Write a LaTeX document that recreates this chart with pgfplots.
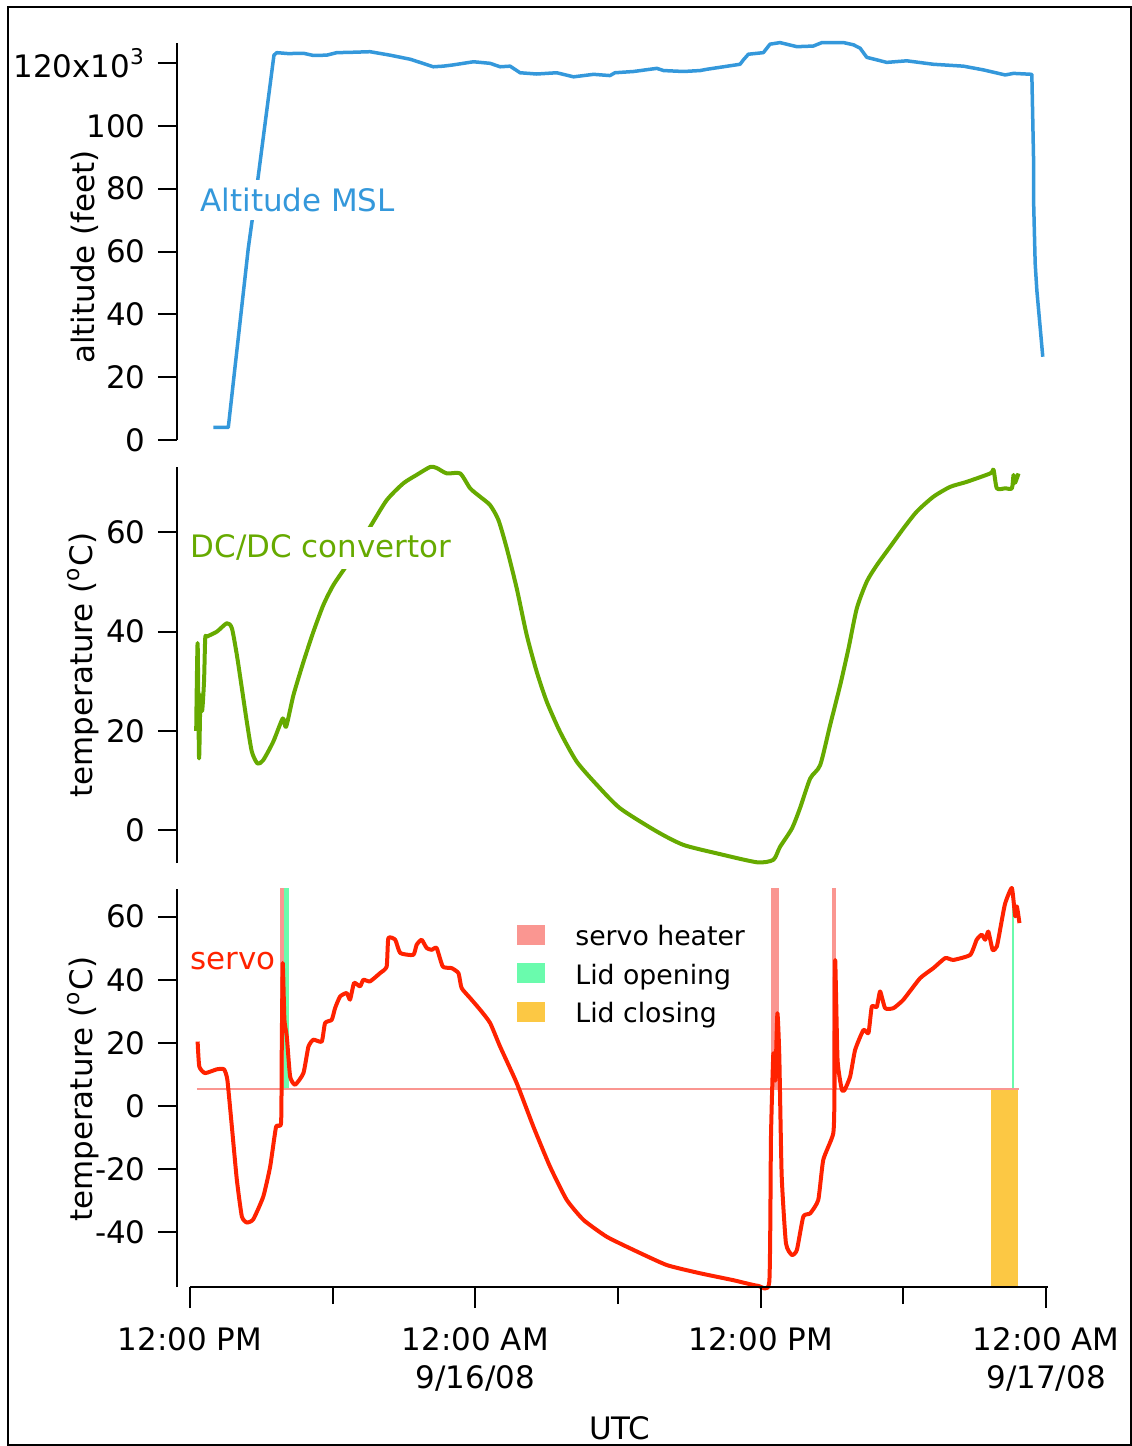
\documentclass[border=0pt]{standalone}
\usepackage{pgfplots}
\pgfplotsset{compat=1.18}
\usepackage{fontspec}
\setmainfont{DejaVu Sans}

\definecolor{altblue}{RGB}{52,152,219}
\definecolor{dcgreen}{RGB}{102,170,0}
\definecolor{servored}{RGB}{255,34,0}
\definecolor{heatpink}{RGB}{250,150,145}
\definecolor{lidgreen}{RGB}{106,251,173}
\definecolor{lidorange}{RGB}{252,200,68}

\newcommand\tickfont{\fontsize{8.8pt}{10.8pt}\selectfont}
\newcommand\labfont{\fontsize{8.8pt}{10.5pt}\selectfont}
\newcommand\legfont{\fontsize{7.6pt}{9pt}\selectfont}

% hours after 12:00 PM 9/15/08 on x
\pgfplotsset{
    panel/.style={
        scale only axis,
        width=87.1mm,
        xmin=-0.547, xmax=36.08,
        axis x line=none,
        axis y line=left,
        y axis line style={-, line width=0.2mm},
        every tick/.style={black, line width=0.2mm},
        tick align=outside,
        major tick length=1.9mm,
        tick label style={font=\tickfont},
        ylabel style={anchor=center, font=\labfont},
        clip=false,
    },
}

\begin{document}
\begin{tikzpicture}
\path[use as bounding box] (0,0) rectangle (113.2mm,-144.6mm);
\draw[line width=0.2mm] (0.8mm,-0.7mm) rectangle (113.1mm,-144.5mm);

% altitude
\begin{axis}[panel,
    at={(17.7mm,-44mm)}, anchor=south west,
    height=39.7mm,
    ymin=0, ymax=126.37,
    ytick={0,20,40,60,80,100,120},
    yticklabels={0,20,40,60,80,100,120x10\textsuperscript{3}},
    ylabel={altitude (feet)},
    ylabel style={at={(axis description cs:-0.1056,0.461)}},
]
\addplot[altblue, line width=0.35mm, line join=round] coordinates {
    (0.98,4.0) (1.61,4.0) (2.45,61) (2.87,84) (3.53,122.5) (3.65,123.3) (4.13,123.0)
    (4.77,123.1) (5.19,122.4) (5.75,122.5) (6.17,123.3) (6.75,123.4) (7.57,123.6)
    (8.41,122.5) (9.26,121.2) (9.75,120.0) (10.23,118.8) (10.65,119.0) (11.07,119.4)
    (11.92,120.4) (12.62,119.9) (13.04,118.8) (13.46,119.0) (13.88,116.9) (14.58,116.5)
    (15.42,116.9) (16.13,115.6) (16.97,116.4) (17.66,116.0) (17.87,116.9) (18.65,117.3)
    (19.63,118.3) (19.91,117.6) (20.75,117.3) (21.45,117.6) (21.73,118.0) (22.43,118.8)
    (23.13,119.6) (23.27,121.0) (23.48,122.8) (24.11,123.3) (24.39,126.0) (24.81,126.5)
    (25.52,125.2) (26.21,125.4) (26.57,126.5) (27.48,126.5) (27.90,125.8) (28.18,124.7)
    (28.46,121.8) (29.30,120.2) (30.14,120.7) (31.26,119.6) (32.52,119.0) (33.37,117.8)
    (34.28,116.2) (34.63,116.7) (35.40,116.4) (35.47,90.2) (35.48,74.3) (35.54,56.2)
    (35.61,47.7) (35.86,26.5)
};
\node[anchor=west, fill=white, inner sep=0.8mm, text=altblue, font=\labfont]
    at (axis cs:0.08,76.4) {Altitude MSL};
\end{axis}

% DC/DC convertor
\begin{axis}[panel,
    at={(17.7mm,-86.3mm)}, anchor=south west,
    height=39.6mm,
    ymin=-6.65, ymax=73.2,
    ytick={0,20,40,60},
    yticklabels={0,20,40,60},
    ylabel={temperature (\textsuperscript{o}C)},
    ylabel style={at={(axis description cs:-0.108,0.5)}},
]
\addplot[dcgreen, line width=0.4mm, line join=round, smooth, tension=0.4] coordinates {
    (0.26,20) (0.32,37.7) (0.38,14.5) (0.44,27) (0.51,24) (0.59,30) (0.64,38.7)
    (0.71,39.0) (1.13,40.0) (1.55,41.7) (1.76,40.7) (1.97,35.3) (2.18,28.6) (2.39,21.8)
    (2.60,15.8) (2.84,13.4) (3.08,14.1) (3.50,17.8) (3.90,22.5) (4.04,20.8) (4.35,27.2)
    (4.77,33.9) (5.19,40.0) (5.61,45.4) (6.03,49.4) (6.59,53.4) (7.05,57.3) (7.57,61.1)
    (8.27,66.5) (8.97,69.9) (9.53,71.6) (10.10,73.2) (10.37,73.0) (10.80,71.9)
    (11.36,71.9) (11.78,68.9) (12.20,67.2) (12.62,65.5) (12.97,62.5) (13.32,56.8)
    (13.74,48.7) (14.16,39.3) (14.58,31.9) (15.00,25.9) (15.56,19.8) (16.26,13.8)
    (17.11,9.1) (18.08,4.4) (19.63,-0.3) (20.75,-3.0) (22.15,-4.7) (23.84,-6.5)
    (24.53,-6.0) (24.81,-3.4) (25.31,0.3) (25.65,4.4) (26.08,10.4) (26.50,13.1)
    (26.92,21.2) (27.34,29.2) (27.69,36.6) (28.04,44.7) (28.46,50.1) (28.88,53.4)
    (29.44,57.1) (30.00,60.8) (30.56,64.2) (31.26,67.2) (31.97,69.2) (32.66,70.2)
    (33.65,71.9) (33.79,72.6) (33.93,68.9) (34.28,68.9) (34.56,68.9) (34.63,71.6)
    (34.69,70.0) (34.84,71.9)
};
\node[anchor=west, fill=white, inner sep=0.8mm, text=dcgreen, font=\labfont]
    at (axis cs:-0.34,56.9) {DC/DC convertor};
\end{axis}

% servo
\begin{axis}[panel,
    at={(17.7mm,-128.7mm)}, anchor=south west,
    height=39.8mm,
    ymin=-57.46, ymax=68.8,
    ytick={-40,-20,0,20,40,60},
    yticklabels={-40,-20,0,20,40,60},
    ylabel={temperature (\textsuperscript{o}C)},
    ylabel style={at={(axis description cs:-0.108,0.497)}},
    legend image code/.code={\fill[#1] (0mm,-0.7mm) rectangle (2.8mm,1.3mm);},
    legend cell align=left,
    legend style={at={(axis description cs:0.39,0.9145)}, anchor=north west,
        draw=none, fill=none, inner sep=0pt, row sep=1.05mm,
        nodes={inner sep=0pt, text height=2.2mm, text depth=0.6mm, font=\legfont},
        /tikz/every odd column/.append style={column sep=3mm}},
]
\addplot[draw=none, fill=heatpink] coordinates
    {(3.78,5.5) (3.78,69) (3.95,69) (3.95,5.5)} -- cycle;
\addlegendentry{servo heater}
\addplot[draw=none, fill=lidgreen] coordinates
    {(3.95,5.5) (3.95,69) (4.16,69) (4.16,5.5)} -- cycle;
\addlegendentry{Lid opening}
\addplot[draw=none, fill=lidorange] coordinates
    {(33.68,5.5) (33.68,-57.46) (34.81,-57.46) (34.81,5.5)} -- cycle;
\addlegendentry{Lid closing}
\addplot[draw=none, fill=heatpink, forget plot] coordinates
    {(24.42,5.5) (24.42,69) (24.78,69) (24.78,5.5)} -- cycle;
\addplot[draw=none, fill=heatpink, forget plot] coordinates
    {(27.01,5.5) (27.01,69) (27.15,69) (27.15,5.5)} -- cycle;
\addplot[draw=none, fill=lidgreen, forget plot] coordinates
    {(34.57,5.5) (34.57,69) (34.65,69) (34.65,5.5)} -- cycle;
\addplot[heatpink, line width=0.2mm, forget plot] coordinates {(0.29,5.5) (34.86,5.5)};
\addplot[servored, line width=0.4mm, line join=round, smooth, tension=0.3, forget plot] coordinates {
    (0.32,20.4) (0.39,12.5) (0.63,10.4) (1.13,11.6) (1.43,11.6) (1.57,8.3) (1.76,-6.6)
    (1.97,-23.5) (2.18,-35.1) (2.39,-37.0) (2.66,-36.0) (3.08,-28.8) (3.37,-19.3)
    (3.62,-6.6) (3.83,-5.3) (3.86,19.9) (3.90,45.3) (3.97,27.3) (4.07,22.0) (4.21,9.3)
    (4.42,6.7) (4.77,10.4) (4.98,18.8) (5.19,21.0) (5.54,20.4) (5.68,26.3) (5.96,27.3)
    (6.10,31.0) (6.31,34.7) (6.59,35.8) (6.73,33.7) (6.90,39.0) (7.15,37.9) (7.29,40.0)
    (7.57,39.5) (7.99,42.1) (8.27,44.2) (8.34,53.2) (8.63,52.7) (8.84,48.5)
    (9.39,47.9) (9.53,51.1) (9.74,52.7) (9.95,50.1) (10.16,49.5) (10.37,50.1)
    (10.63,44.2) (11.00,43.7) (11.29,42.1) (11.42,37.4) (11.78,34.2) (12.20,30.5)
    (12.62,26.3) (13.04,18.8) (13.74,7.2) (14.44,-6.6) (15.14,-19.3) (15.84,-29.8)
    (16.55,-36.2) (17.52,-41.5) (18.65,-45.7) (20.05,-50.5) (21.45,-53.1) (22.85,-55.3)
    (23.90,-57.1) (24.36,-55.8) (24.43,-10) (24.53,16.7) (24.61,8) (24.70,29.4)
    (24.78,16) (24.88,-22) (25.06,-43.6) (25.31,-47.3) (25.52,-45.7) (25.79,-35.1)
    (26.08,-34.1) (26.42,-29.8) (26.63,-17.1) (27.05,-8.7) (27.10,4.0) (27.13,46.3)
    (27.23,14.6) (27.41,5.1) (27.53,5.1) (27.76,9.3) (27.97,17.8) (28.32,24.1)
    (28.53,23.1) (28.67,31.5) (28.88,31.4) (29.02,36.3) (29.23,31.0) (29.58,31.0)
    (30.00,33.7) (30.70,40.5) (31.26,43.7) (31.76,46.9) (32.10,46.3) (32.81,47.9)
    (33.08,52.7) (33.29,54.3) (33.44,52.7) (33.57,55.3) (33.75,49.5) (33.93,50.6)
    (34.14,59.0) (34.28,64.3) (34.56,69.1) (34.70,60.1) (34.77,63.3) (34.88,58.0)
};
\node[anchor=west, inner sep=0pt, text=servored, font=\labfont]
    at (axis cs:0,46.0) {servo};
\end{axis}

% time axis
\begin{axis}[
    scale only axis,
    width=85.8mm, height=1mm,
    at={(19mm,-128.7mm)}, anchor=south west,
    xmin=0, xmax=36.08, ymin=0, ymax=1,
    axis y line=none,
    axis x line=bottom,
    x axis line style={-, line width=0.2mm},
    every tick/.style={black, line width=0.2mm},
    tick align=outside,
    major tick length=2.1mm,
    minor tick length=1.7mm,
    xtick={0,12,24,36},
    minor xtick={6,18,30},
    xticklabels={12:00 PM,{12:00 AM\\9/16/08},12:00 PM,{12:00 AM\\9/17/08}},
    xticklabel style={align=center, font=\tickfont, yshift=-0.7mm},
    xlabel={UTC},
    xlabel style={at={(axis description cs:0.501,0)}, anchor=center, yshift=-14.1mm, font=\labfont},
]
\end{axis}
\end{tikzpicture}
\end{document}
